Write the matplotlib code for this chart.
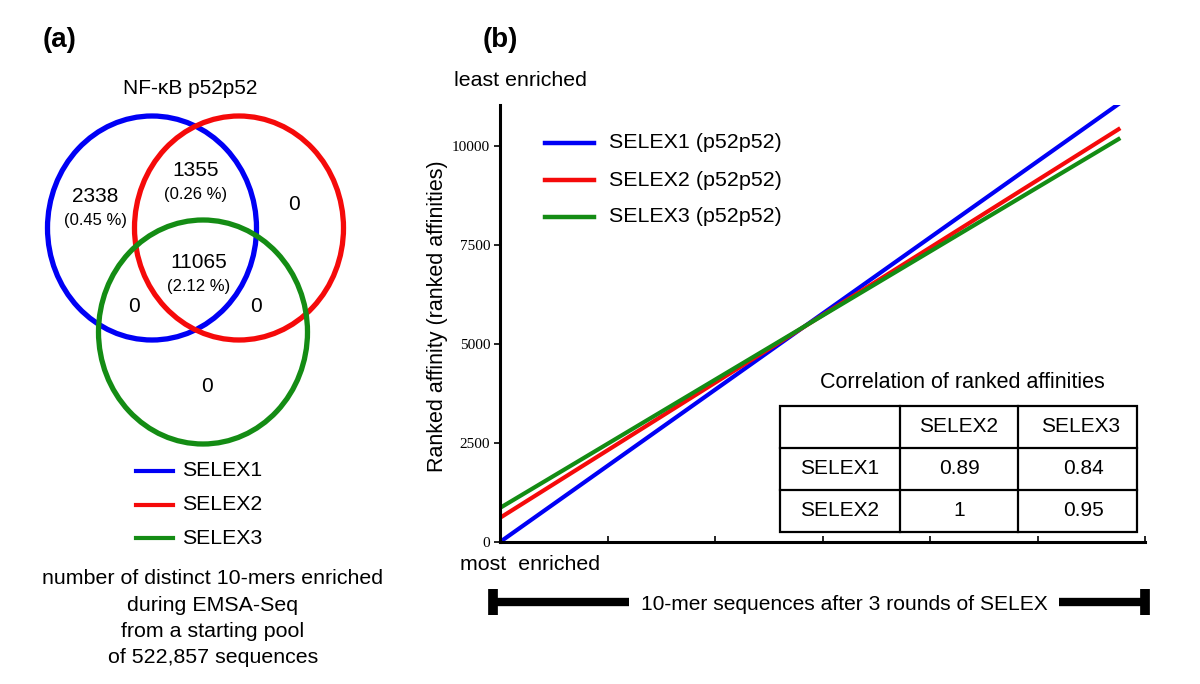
import matplotlib
matplotlib.use("Agg")
import matplotlib.pyplot as plt
from matplotlib.patches import Ellipse, Rectangle

plt.rcParams["font.family"] = ["Liberation Sans", "DejaVu Sans"]

# --- data ---
SERIES = ["SELEX1", "SELEX2", "SELEX3"]
COLORS = ["#0000F5", "#F50A0A", "#148C14"]
# ranked affinity lines: start (most enriched) and end values
LINE_X = [0, 5.77]
LINE_Y = {
    "SELEX1": [0, 11090],
    "SELEX2": [610, 10450],
    "SELEX3": [860, 10200],
}
Y_TICKS = [0, 2500, 5000, 7500, 10000]

VENN_COUNTS = ["2338", "1355", "0", "11065", "0", "0", "0"]
VENN_PCT = ["(0.45 %)", "(0.26 %)", None, "(2.12 %)", None, None, None]

CORR_COLS = ["SELEX2", "SELEX3"]
CORR_ROWS = ["SELEX1", "SELEX2"]
CORR_VALS = [["0.89", "0.84"], ["1", "0.95"]]

W, H = 1200, 684
fig = plt.figure(figsize=(W / 100, H / 100), dpi=100)
bg = fig.add_axes([0, 0, 1, 1])
bg.set_xlim(0, W)
bg.set_ylim(H, 0)
bg.axis("off")

# --- panel (a): venn ---
bg.text(60, 40, "(a)", fontsize=20, fontweight="bold", ha="center", va="center")
bg.text(190, 88, "NF-\u03baB p52p52", fontsize=15, ha="center", va="center")

centers = [(152, 228), (239, 228), (203, 332)]
for (cx, cy), c in zip(centers, COLORS):
    bg.add_patch(Ellipse((cx, cy), 209, 224, fill=False, edgecolor=c, lw=3.8))

count_pos = [(95, 196), (196, 170), (294, 205), (199, 262), (134, 307), (256, 307), (207, 387)]
for (x, y), n, p in zip(count_pos, VENN_COUNTS, VENN_PCT):
    bg.text(x, y, n, fontsize=15, ha="center", va="center")
    if p:
        bg.text(x, y + 24, p, fontsize=12, ha="center", va="center")

for i, (name, c) in enumerate(zip(SERIES, COLORS)):
    y = 471 + i * 33.5
    bg.plot([136, 173], [y, y], color=c, lw=3)
    bg.text(182, y, name, fontsize=15.3, ha="left", va="center")

caption = ["number of distinct 10-mers enriched", "during EMSA-Seq",
           "from a starting pool", "of 522,857 sequences"]
for i, line in enumerate(caption):
    bg.text(213, 579 + i * 26.3, line, fontsize=15.4, ha="center", va="center")

# --- panel (b): ranked affinity lines ---
bg.text(500, 40, "(b)", fontsize=20, fontweight="bold", ha="center", va="center")
bg.text(520, 81, "least enriched", fontsize=15.4, ha="center", va="center")

ax = fig.add_axes([500 / W, (H - 542) / H, 645 / W, 437 / H])
for name, c in zip(SERIES, COLORS):
    ax.plot(LINE_X, LINE_Y[name], color=c, lw=3, solid_capstyle="butt")
ax.set_xlim(0, 6)
ax.set_ylim(0, 11035)
ax.set_yticks(Y_TICKS)
ax.set_yticklabels([str(t) for t in Y_TICKS], fontsize=11, family="Liberation Serif")
ax.set_xticks(range(7))
ax.set_xticklabels([])
ax.tick_params(axis="y", direction="out", length=4, width=1.2, pad=3)
ax.tick_params(axis="x", direction="in", length=4, width=1.2)
ax.spines[["top", "right"]].set_visible(False)
ax.spines[["left", "bottom"]].set_linewidth(2.2)
ax.patch.set_alpha(0)

bg.text(437, 316, "Ranked affinity (ranked affinities)", fontsize=15.5,
        rotation=90, ha="center", va="center")

# legend of panel (b)
for i, (name, c) in enumerate(zip(SERIES, COLORS)):
    y = 143 + i * 37
    bg.plot([545, 594], [y, y], color=c, lw=3.2)
    bg.text(609, y, f"{name} (p52p52)", fontsize=15.4, ha="left", va="center")

bg.text(530, 565, "most  enriched", fontsize=15.4, ha="center", va="center")

# correlation table
bg.text(962, 382, "Correlation of ranked affinities", fontsize=15.5, ha="center", va="center")
col_x = [780, 900, 1018, 1137]
row_y = [406, 448, 490, 532]
bg.add_patch(Rectangle((col_x[0], row_y[0]), col_x[-1] - col_x[0], row_y[-1] - row_y[0],
                       fill=False, lw=1.6, edgecolor="black"))
for x in col_x[1:-1]:
    bg.plot([x, x], [row_y[0], row_y[-1]], color="black", lw=1.6)
for y in row_y[1:-1]:
    bg.plot([col_x[0], col_x[-1]], [y, y], color="black", lw=1.6)
for j, name in enumerate(CORR_COLS):
    bg.text((col_x[j + 1] + col_x[j + 2]) / 2 + 3 * j, (row_y[0] + row_y[1]) / 2, name,
            fontsize=15, ha="center", va="center")
for i, name in enumerate(CORR_ROWS):
    ym = (row_y[i + 1] + row_y[i + 2]) / 2
    bg.text((col_x[0] + col_x[1]) / 2, ym, name, fontsize=15, ha="center", va="center")
    for j, v in enumerate(CORR_VALS[i]):
        bg.text((col_x[j + 1] + col_x[j + 2]) / 2 + 6 * j, ym, v, fontsize=15,
                ha="center", va="center")

# bracket under x-axis
bg.plot([492, 629], [602, 602], color="black", lw=6, solid_capstyle="butt")
bg.plot([1059, 1145], [602, 602], color="black", lw=6, solid_capstyle="butt")
bg.plot([493, 493], [589, 615], color="black", lw=7, solid_capstyle="butt")
bg.plot([1145, 1145], [589, 615], color="black", lw=7, solid_capstyle="butt")
bg.text(844, 605, "10-mer sequences after 3 rounds of SELEX", fontsize=15.1,
        ha="center", va="center")

fig.savefig("out.png", dpi=100)
